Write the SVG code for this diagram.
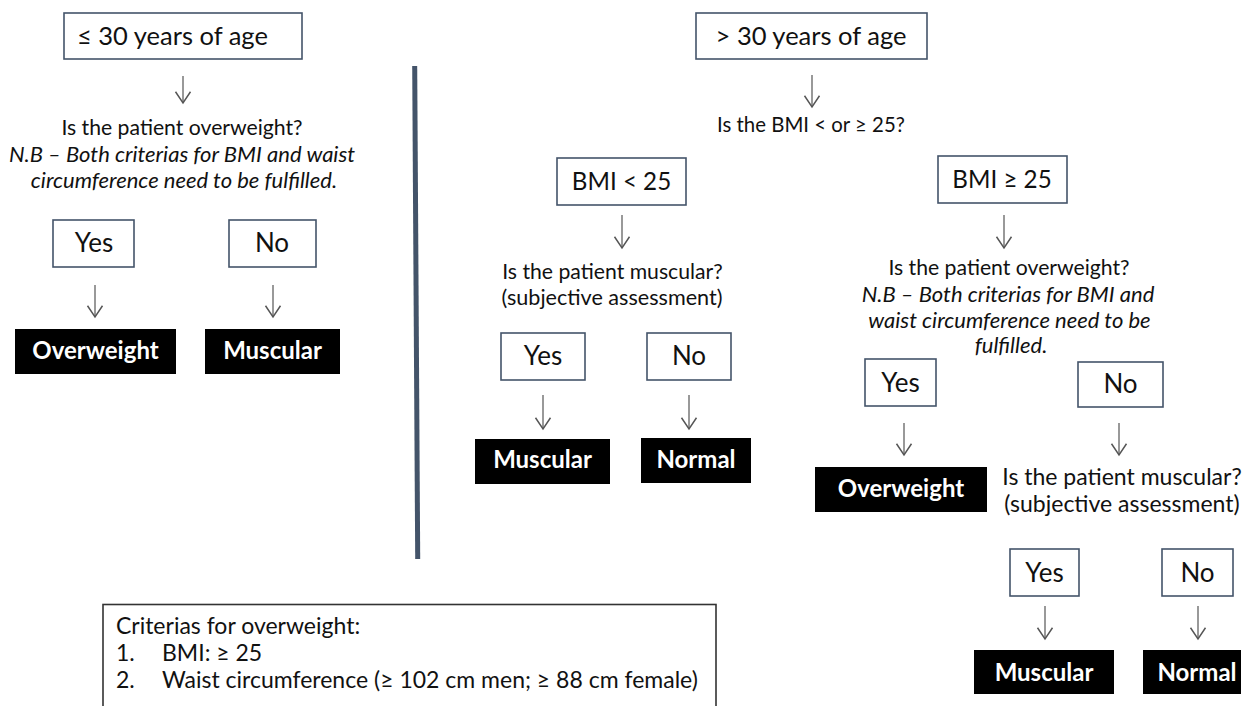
<svg xmlns="http://www.w3.org/2000/svg" width="1244" height="706" viewBox="0 0 1244 706">
<style>
text{font-family:Lato,"Liberation Sans",sans-serif;fill:#111}
.box{fill:#fff;stroke:#44546a;stroke-width:1.6}
.res{fill:#000}
.hd{font-size:25.5px}
.q{font-size:21.2px;text-anchor:middle}
.it{font-style:italic;font-size:22px}
.yn{font-size:26px;text-anchor:middle}
.bm{font-size:24.2px;text-anchor:middle}
.rt{font-size:24px;font-weight:bold;fill:#fff;text-anchor:middle}
.cr{font-size:23px}
.arr{stroke:#555;stroke-width:1.2;fill:none;marker-end:url(#ah)}
</style>
<defs>
<marker id="ah" markerUnits="userSpaceOnUse" markerWidth="20" markerHeight="20" refX="0" refY="0" viewBox="-12 -8 14 16" orient="auto">
<path d="M-9,-6 L0,0 L-9,6" fill="none" stroke="#555" stroke-width="1.2"/>
</marker>
</defs>
<g id="connectors">
<line class="arr" x1="183" y1="76" x2="183" y2="103"/>
<line class="arr" x1="95" y1="285" x2="95" y2="317"/>
<line class="arr" x1="273" y1="285" x2="273" y2="317"/>
<line class="arr" x1="812" y1="75" x2="812" y2="107"/>
<line class="arr" x1="622" y1="215" x2="622" y2="248"/>
<line class="arr" x1="1004" y1="215" x2="1004" y2="248"/>
<line class="arr" x1="543" y1="395" x2="543" y2="429"/>
<line class="arr" x1="689" y1="395" x2="689" y2="429"/>
<line class="arr" x1="904" y1="423" x2="904" y2="455"/>
<line class="arr" x1="1119" y1="423" x2="1119" y2="455"/>
<line class="arr" x1="1045" y1="606" x2="1045" y2="639"/>
<line class="arr" x1="1198" y1="606" x2="1198" y2="639"/>
</g>
<line id="divider" x1="414.7" y1="66" x2="417.7" y2="559" stroke="#44546a" stroke-width="5"/>
<g id="age-le30"><rect class="box" x="64" y="13" width="238" height="46"/><text class="hd" x="77" y="45">≤ 30 years of age</text></g>
<g id="q-left"><text class="q" x="182" y="135">Is the patient overweight?</text><text class="q it" x="182" y="162">N.B – Both criterias for BMI and waist</text><text class="q it" x="184" y="188">circumference need to be fulfilled.</text></g>
<g id="l-yes"><rect class="box" x="53" y="220" width="81" height="47"/><text class="yn" x="94" y="252">Yes</text></g>
<g id="l-no"><rect class="box" x="229" y="220" width="87" height="47"/><text class="yn" x="272" y="252">No</text></g>
<g id="l-overweight"><rect class="res" x="15" y="329" width="161" height="45"/><text class="rt" x="95.5" y="359">Overweight</text></g>
<g id="l-muscular"><rect class="res" x="205" y="329" width="135" height="45"/><text class="rt" x="272.5" y="359">Muscular</text></g>
<g id="criteria"><rect x="103" y="604.5" width="613" height="130" fill="#fff" stroke="#333" stroke-width="1.6"/><text class="cr" x="116" y="634">Criterias for overweight:</text><text class="cr" x="116" y="661">1.</text><text class="cr" x="162" y="661">BMI: ≥ 25</text><text class="cr" x="116" y="688">2.</text><text class="cr" x="162" y="688">Waist circumference (≥ 102 cm men; ≥ 88 cm female)</text></g>
<g id="age-gt30"><rect class="box" x="696" y="13" width="231" height="46"/><text class="hd" x="811" y="45" text-anchor="middle">&gt; 30 years of age</text></g>
<g id="q-bmi"><text class="q" x="811" y="132" style="font-size:20.4px">Is the BMI &lt; or ≥ 25?</text></g>
<g id="bmi-lt25"><rect class="box" x="557" y="158" width="129" height="47"/><text class="bm" x="621.5" y="190">BMI &lt; 25</text></g>
<g id="bmi-ge25"><rect class="box" x="938" y="156" width="129" height="47"/><text class="bm" x="1002" y="188">BMI ≥ 25</text></g>
<g id="q-musc1"><text class="q" x="612.5" y="279" style="font-size:21.2px">Is the patient muscular?</text><text class="q" x="612" y="305" style="font-size:21.6px">(subjective assessment)</text></g>
<g id="m-yes"><rect class="box" x="501" y="333" width="84" height="47"/><text class="yn" x="543" y="365">Yes</text></g>
<g id="m-no"><rect class="box" x="647" y="333" width="84" height="47"/><text class="yn" x="689" y="365">No</text></g>
<g id="m-muscular"><rect class="res" x="475" y="439" width="135" height="45"/><text class="rt" x="542.5" y="468">Muscular</text></g>
<g id="m-normal"><rect class="res" x="641" y="438" width="110" height="45"/><text class="rt" x="696" y="468">Normal</text></g>
<g id="q-over-right"><text class="q" x="1009" y="275">Is the patient overweight?</text><text class="q it" x="1008" y="302">N.B – Both criterias for BMI and</text><text class="q it" x="1009.5" y="328">waist circumference need to be</text><text class="q it" x="1011" y="353">fulfilled.</text></g>
<g id="r-yes"><rect class="box" x="865" y="359" width="71" height="47"/><text class="yn" x="900.5" y="392">Yes</text></g>
<g id="r-no"><rect class="box" x="1078" y="362" width="85" height="45"/><text class="yn" x="1120.5" y="393">No</text></g>
<g id="r-overweight"><rect class="res" x="815" y="467" width="172" height="45"/><text class="rt" x="901" y="497">Overweight</text></g>
<g id="q-musc2"><text class="q" x="1122" y="485" style="font-size:23px">Is the patient muscular?</text><text class="q" x="1122" y="512" style="font-size:23px">(subjective assessment)</text></g>
<g id="r2-yes"><rect class="box" x="1010" y="549" width="69" height="47"/><text class="yn" x="1044.5" y="582">Yes</text></g>
<g id="r2-no"><rect class="box" x="1162" y="549" width="71" height="47"/><text class="yn" x="1197.5" y="582">No</text></g>
<g id="r2-muscular"><rect class="res" x="974" y="650" width="140" height="44"/><text class="rt" x="1044" y="681">Muscular</text></g>
<g id="r2-normal"><rect class="res" x="1143" y="650" width="98" height="44"/><text class="rt" x="1197" y="681">Normal</text></g>
</svg>
